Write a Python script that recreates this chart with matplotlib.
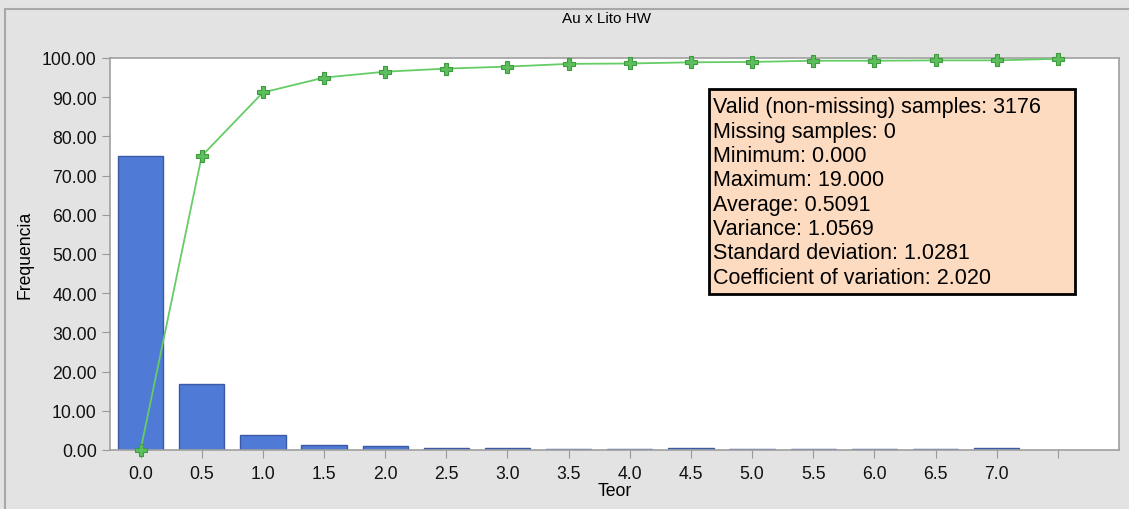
import matplotlib.pyplot as plt
import numpy as np
from matplotlib.patches import Rectangle

# Данные гистограммы (частоты, %) и накопленная кривая
bin_labels = ["0.0", "0.5", "1.0", "1.5", "2.0", "2.5", "3.0", "3.5",
              "4.0", "4.5", "5.0", "5.5", "6.0", "6.5", "7.0"]
freq = [75.0, 16.8, 3.8, 1.3, 0.9, 0.5, 0.5, 0.2, 0.2, 0.6, 0.2, 0.2, 0.2, 0.2, 0.6]
cum = [0.0, 75.0, 91.2, 95.0, 96.5, 97.3, 97.8, 98.5, 98.6, 98.9, 99.0, 99.3,
       99.3, 99.4, 99.4, 99.8]
tick_labels = bin_labels + [""]
stats_lines = [
    "Valid (non-missing) samples: 3176",
    "Missing samples: 0",
    "Minimum: 0.000",
    "Maximum: 19.000",
    "Average: 0.5091",
    "Variance: 1.0569",
    "Standard deviation: 1.0281",
    "Coefficient of variation: 2.020",
]

plt.rcParams['font.family'] = ['Liberation Sans', 'DejaVu Sans']

fig = plt.figure(figsize=(11.29, 5.10), dpi=100)
fig.patch.set_facecolor('#e3e3e3')
# рамка вокруг всей картинки
fig.patches.append(Rectangle((5 / 1129, -0.1), 1.2, (500 / 510) + 0.1, transform=fig.transFigure,
                             fill=False, edgecolor='#a8a8a8', linewidth=1.5))

ax = fig.add_axes([110 / 1129, 59 / 510, 1009 / 1129, 392 / 510])
ax.set_facecolor('white')

x_bars = np.arange(len(freq))
ax.bar(x_bars, freq, width=0.74, color='#4f7bd6', edgecolor='#3a5aa6', linewidth=1)

x_cum = np.arange(len(cum))
ax.plot(x_cum, cum, color='#66cc66', linewidth=1.3, marker='P', markersize=8.5,
        markerfacecolor='#5cbf5c', markeredgecolor='#3f9a3f', markeredgewidth=0.8, zorder=3,
        clip_on=False)

ax.set_xlim(-0.5, 16.0)
ax.set_ylim(0, 100)
ax.set_xticks(x_cum)
ax.set_xticklabels(tick_labels)
ax.set_yticks(np.arange(0, 101, 10))
ax.set_yticklabels([f"{v:.2f}" for v in np.arange(0, 101, 10)])
ax.tick_params(axis='both', direction='out', length=6, color='#999999', labelsize=12.7,
               labelcolor='#111111')
ax.tick_params(axis='x', pad=5)
for s in ax.spines.values():
    s.set_color('#a0a0a0')
    s.set_linewidth(1.2)

ax.set_xlabel("Teor", fontsize=12.7, labelpad=0)
ax.set_ylabel("Frequencia", fontsize=12.7, labelpad=6)
fig.text(607 / 1129, 1 - 19 / 510, "Au x Lito HW", ha='center', va='center', fontsize=11)

# Блок статистики
fig.patches.append(Rectangle((709 / 1129, 1 - 295 / 510), 366 / 1129, 205 / 510,
                             transform=fig.transFigure, facecolor='#fddbc1',
                             edgecolor='black', linewidth=2, zorder=5))
for i, line in enumerate(stats_lines):
    fig.text(713 / 1129, 1 - (108 + i * 24.3) / 510, line, ha='left', va='center',
             fontsize=15.5, zorder=6)

fig.savefig('out.png', dpi=100, facecolor=fig.get_facecolor())
